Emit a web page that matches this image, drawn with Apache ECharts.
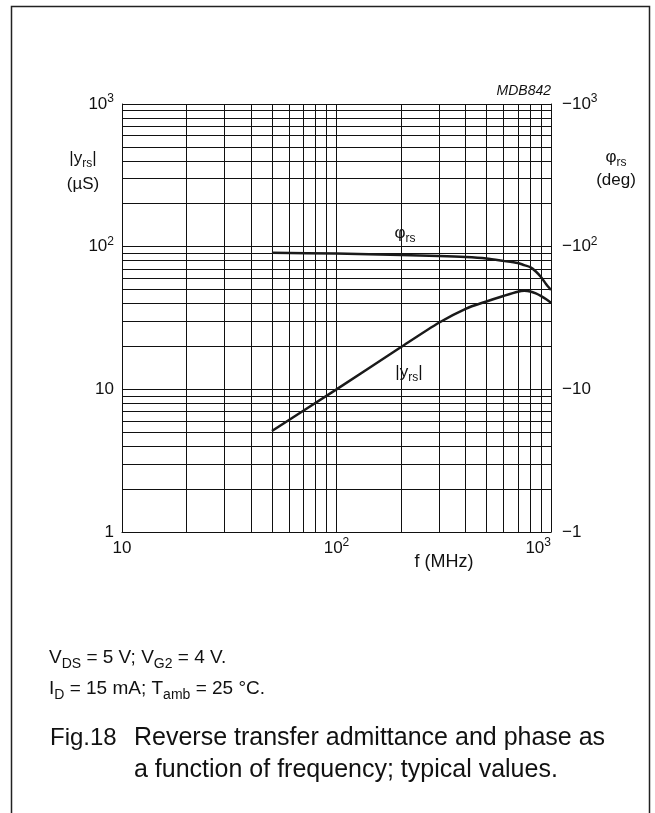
<!DOCTYPE html>
<html>
<head>
<meta charset="utf-8">
<script src="https://cdn.jsdelivr.net/npm/echarts@6/dist/echarts.min.js"></script>
<style>
  html, body { margin: 0; padding: 0; background: #fff; }
  #chart { width: 655px; height: 813px; }
</style>
</head>
<body>
<div id="chart"></div>
<script>
// frequency (MHz)
const freq = [50, 100, 200, 300, 400, 500, 600, 700, 750, 800, 850, 900, 950, 1000]
// phase magnitude (deg, plotted as -value on the right axis)
const phiRs = [90.5, 89.5, 87.5, 86, 84.5, 82.5, 79.5, 76.8, 74.2, 71.8, 67, 61, 54.5, 49.7]
// |y_rs| (uS)
const yRs = [5.1, 10, 19.8, 29.3, 36.7, 41.3, 45.1, 48.3, 49, 48.5, 47, 45, 42.8, 40.5]

// minor grid lines of the log paper
const xMinor = [20, 30, 40, 50, 60, 70, 80, 90, 200, 300, 400, 500, 600, 700, 800, 900]
const yMinor = [2, 3, 4, 5, 6, 7, 8, 9, 20, 30, 40, 50, 60, 70, 80, 90, 200, 300, 400, 500, 600, 700, 800, 900]

const FONT = 'Liberation Sans, Arial, Helvetica, sans-serif'
const INK = '#111'

// 10 -> "10", 100 -> "10{sup|2}"
function powLabel(v) {
  const e = Math.round(Math.log10(v))
  if (e === 0) return '1'
  if (e === 1) return '10'
  return '10{sup|' + e + '}'
}

const supRich = {
  sup: { fontSize: 12, lineHeight: 12, verticalAlign: 'top', fontFamily: FONT, color: INK }
}
const subRich = (size) => ({
  sub: { fontSize: size, lineHeight: size, verticalAlign: 'bottom', fontFamily: FONT, fill: INK, color: INK }
})

function txt(text, x, y, size, extra) {
  return {
    type: 'text',
    x: x,
    y: y,
    silent: true,
    style: Object.assign({
      text: text,
      fill: INK,
      fontSize: size,
      fontFamily: FONT,
      lineHeight: Math.round(size * 1.35),
      align: 'center',
      verticalAlign: 'middle',
      rich: subRich(Math.round(size * 0.72))
    }, extra || {})
  }
}

const myChart = echarts.init(document.getElementById('chart'))

const option = {
  animation: false,
  backgroundColor: '#fff',
  grid: { left: 122, right: 104, top: 104, bottom: 281 },
  xAxis: {
    type: 'log',
    logBase: 10,
    min: 10,
    max: 1000,
    axisLine: { show: true, lineStyle: { color: INK, width: 1 } },
    axisTick: { show: false },
    splitLine: { show: true, lineStyle: { color: INK, width: 1 } },
    axisLabel: {
      color: INK,
      fontSize: 17,
      fontFamily: FONT,
      lineHeight: 22,
      margin: 5,
      alignMaxLabel: 'right',
      formatter: powLabel,
      rich: supRich
    }
  },
  yAxis: [
    {
      type: 'log',
      logBase: 10,
      min: 1,
      max: 1000,
      position: 'left',
      axisLine: { show: true, lineStyle: { color: INK, width: 1 } },
      axisTick: { show: false },
      splitLine: { show: true, lineStyle: { color: INK, width: 1 } },
      axisLabel: {
        color: INK,
        fontSize: 17,
        fontFamily: FONT,
        lineHeight: 22,
        margin: 8,
        formatter: powLabel,
        rich: supRich
      }
    },
    {
      type: 'log',
      logBase: 10,
      min: 1,
      max: 1000,
      position: 'right',
      axisLine: { show: true, lineStyle: { color: INK, width: 1 } },
      axisTick: { show: false },
      splitLine: { show: false },
      axisLabel: {
        color: INK,
        fontSize: 17,
        fontFamily: FONT,
        lineHeight: 22,
        margin: 11,
        formatter: (v) => '\u2212' + powLabel(v),
        rich: supRich
      }
    }
  ],
  graphic: [
    // page frame
    {
      type: 'rect',
      silent: true,
      shape: { x: 11.5, y: 6.5, width: 638, height: 900 },
      style: { fill: 'none', stroke: '#222', lineWidth: 1.5 }
    },
    txt('MDB842', 551, 91, 14, { align: 'right', fontStyle: 'italic' }),
    txt('|y{sub|rs}|', 83, 158, 17),
    txt('(\u00b5S)', 83, 184, 17),
    txt('\u03c6{sub|rs}', 616, 157, 17),
    txt('(deg)', 616, 180, 17),
    txt('\u03c6{sub|rs}', 405, 233, 17),
    txt('|y{sub|rs}|', 409, 372, 17),
    txt('f (MHz)', 444, 562, 18),
    txt('V{sub|DS} = 5 V; V{sub|G2} = 4 V.', 49, 658, 19, { align: 'left' }),
    txt('I{sub|D} = 15 mA; T{sub|amb} = 25 \u00b0C.', 49, 689, 19, { align: 'left' }),
    txt('Fig.18', 50, 738, 24, { align: 'left' }),
    txt('Reverse transfer admittance and phase as', 134, 738, 25, { align: 'left' }),
    txt('a function of frequency; typical values.', 134, 770, 25, { align: 'left' })
  ],
  series: [
    {
      name: 'grid',
      type: 'line',
      data: [],
      z: 1,
      markLine: {
        silent: true,
        symbol: 'none',
        animation: false,
        label: { show: false },
        lineStyle: { color: INK, width: 1, type: 'solid' },
        emphasis: { disabled: true },
        data: xMinor.map((v) => ({ xAxis: v })).concat(yMinor.map((v) => ({ yAxis: v })))
      }
    },
    {
      name: 'phi_rs',
      type: 'line',
      yAxisIndex: 0,
      z: 5,
      showSymbol: false,
      smooth: 0.25,
      lineStyle: { color: '#1a1a1a', width: 2.5 },
      data: freq.map((f, i) => [f, phiRs[i]])
    },
    {
      name: 'y_rs',
      type: 'line',
      yAxisIndex: 0,
      z: 5,
      showSymbol: false,
      smooth: 0.25,
      lineStyle: { color: '#1a1a1a', width: 2.5 },
      data: freq.map((f, i) => [f, yRs[i]])
    }
  ]
}

myChart.setOption(option)
</script>
</body>
</html>
